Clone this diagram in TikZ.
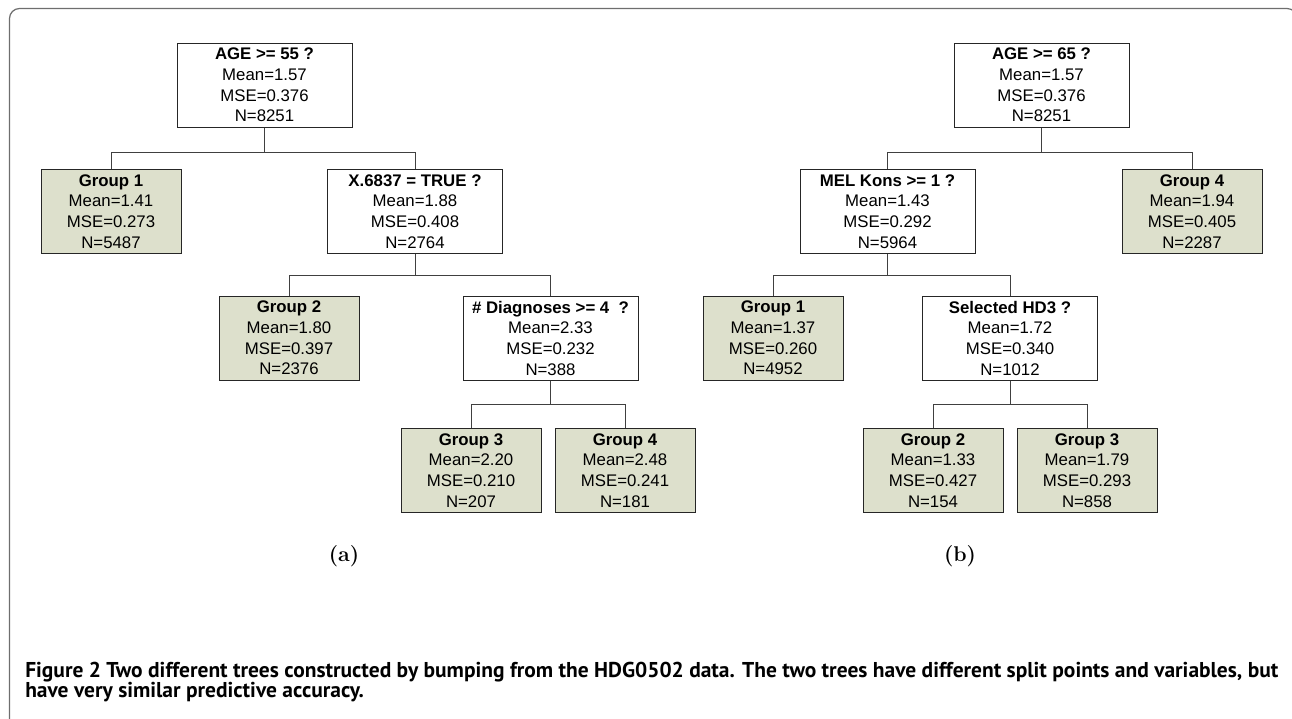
\documentclass[tikz,border=0pt]{standalone}
\usepackage{fontspec}
\newfontfamily\arialfam{Liberation Sans}
\newfontfamily\capfam{PT Sans}
\definecolor{leafgreen}{RGB}{221,224,204}
\definecolor{framegray}{RGB}{110,110,110}
\newcommand\treefont{\arialfam\fontsize{12.6}{15.5}\selectfont}
\tikzset{
  splitbox/.style={draw=black!85, line width=0.75pt, fill=white, minimum width=175*0.75pt,
    minimum height=84*0.75pt, inner sep=0pt, align=center, font=\treefont},
  leafbox/.style={splitbox, fill=leafgreen, minimum width=140*0.75pt},
  conn/.style={draw=black!75, line width=0.75pt},
  sublabel/.style={font=\fontsize{16}{19}\selectfont\bfseries},
  captext/.style={anchor=base west, inner sep=0pt, font={\capfam\fontsize{16.1}{20}\selectfont\bfseries}},
}
\begin{document}
\begin{tikzpicture}[x=0.75pt,y=-0.75pt]
\useasboundingbox (0,0) rectangle (1292,718);
\begin{scope}
\clip (0,0) rectangle (1292,718);
\draw[framegray, line width=0.9pt, rounded corners=7.5pt] (9.5,740) -- (9.5,8.5) -- (1297,8.5) -- (1297,740);
\end{scope}

% tree (a)
\node[splitbox] (rootA) at (264.5,85) {\textbf{AGE >= 55 ?}\\Mean=1.57\\MSE=0.376\\N=8251};
\node[leafbox] (g1A) at (111,211.5) {\textbf{Group 1}\\Mean=1.41\\MSE=0.273\\N=5487};
\node[splitbox] (xA) at (415,211.5) {\textbf{X.6837 = TRUE ?}\\Mean=1.88\\MSE=0.408\\N=2764};
\node[leafbox] (g2A) at (289,338) {\textbf{Group 2}\\Mean=1.80\\MSE=0.397\\N=2376};
\node[splitbox] (dA) at (550.5,338) {\textbf{\# Diagnoses >= 4\ \ ?}\\Mean=2.33\\MSE=0.232\\N=388};
\node[leafbox] (g3A) at (471,470.5) {\textbf{Group 3}\\Mean=2.20\\MSE=0.210\\N=207};
\node[leafbox] (g4A) at (625,470.5) {\textbf{Group 4}\\Mean=2.48\\MSE=0.241\\N=181};

\draw[conn] (rootA.south) -- ++(0,25) -| (g1A.north);
\draw[conn] (rootA.south) -- ++(0,25) -| (xA.north);
\draw[conn] (xA.south) -- ++(0,21) -| (g2A.north);
\draw[conn] (xA.south) -- ++(0,21) -| (dA.north);
\draw[conn] (dA.south) -- ++(0,24) -| (g3A.north);
\draw[conn] (dA.south) -- ++(0,24) -| (g4A.north);

% tree (b)
\node[splitbox] (rootB) at (1041.5,85) {\textbf{AGE >= 65 ?}\\Mean=1.57\\MSE=0.376\\N=8251};
\node[splitbox] (melB) at (887.5,211.5) {\textbf{MEL Kons >= 1 ?}\\Mean=1.43\\MSE=0.292\\N=5964};
\node[leafbox] (g4B) at (1192,211.5) {\textbf{Group 4}\\Mean=1.94\\MSE=0.405\\N=2287};
\node[leafbox] (g1B) at (773,338) {\textbf{Group 1}\\Mean=1.37\\MSE=0.260\\N=4952};
\node[splitbox] (sB) at (1010,338) {\textbf{Selected HD3 ?}\\Mean=1.72\\MSE=0.340\\N=1012};
\node[leafbox] (g2B) at (933,470.5) {\textbf{Group 2}\\Mean=1.33\\MSE=0.427\\N=154};
\node[leafbox] (g3B) at (1087,470.5) {\textbf{Group 3}\\Mean=1.79\\MSE=0.293\\N=858};

\draw[conn] (rootB.south) -- ++(0,25) -| (melB.north);
\draw[conn] (rootB.south) -- ++(0,25) -| (g4B.north);
\draw[conn] (melB.south) -- ++(0,21) -| (g1B.north);
\draw[conn] (melB.south) -- ++(0,21) -| (sB.north);
\draw[conn] (sB.south) -- ++(0,24) -| (g2B.north);
\draw[conn] (sB.south) -- ++(0,24) -| (g3B.north);

\node[sublabel] (labA) at (344,556) {(a)};
\node[sublabel] (labB) at (960,556) {(b)};

\node[captext] (cap1) at (25,677) {Figure 2 Two different trees constructed by bumping from the HDG0502 data. The two trees have different split points and variables, but};
\node[captext] (cap2) at (25,697) {have very similar predictive accuracy.};
\end{tikzpicture}
\end{document}
